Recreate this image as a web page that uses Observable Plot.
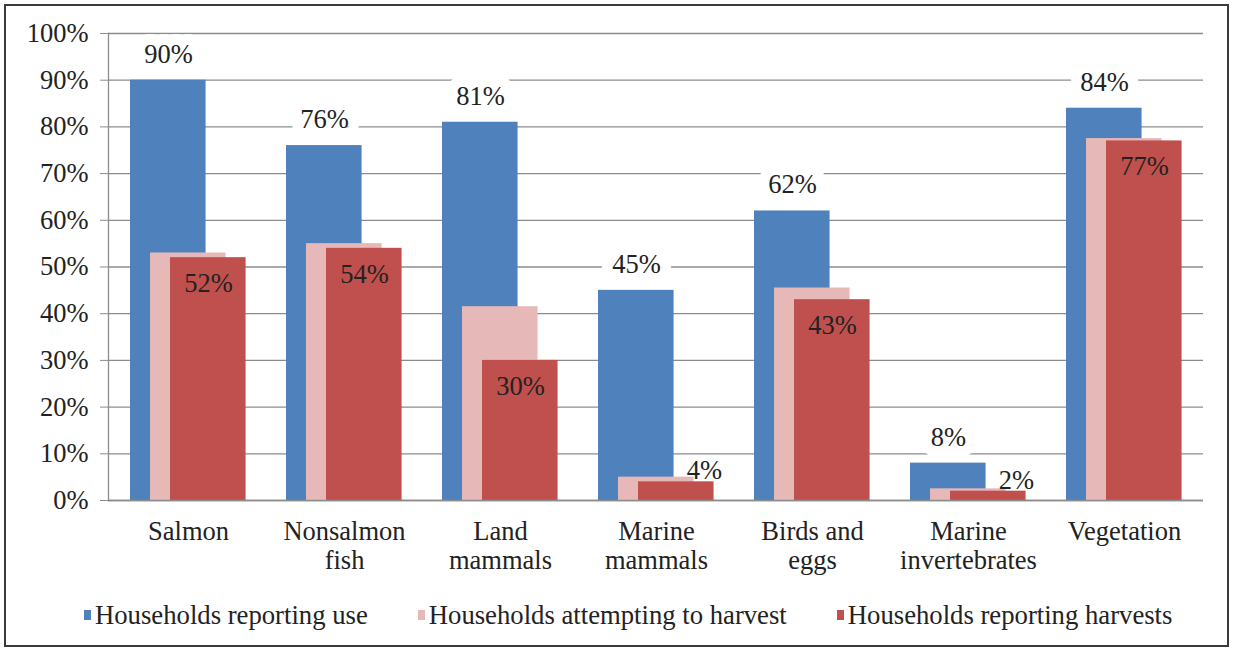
<!DOCTYPE html>
<html>
<head>
<meta charset="utf-8">
<script src="https://cdn.jsdelivr.net/npm/d3@7"></script>
<script src="https://cdn.jsdelivr.net/npm/@observablehq/plot@0.6"></script>
<style>
  html, body { margin: 0; padding: 0; background: #fff; }
  #wrap { position: relative; width: 1233px; height: 655px; font-family: "Liberation Serif", "Times New Roman", serif; color: #222; }
  #border { position: absolute; left: 4px; top: 4px; width: 1221px; height: 639px; border: 2px solid #3a3a3a; pointer-events: none; }
  #chart { position: absolute; left: 0; top: 0; }
  #legend { position: absolute; left: 84px; top: 600px; display: flex; gap: 50px; font-size: 26.7px; line-height: 30px; }
  .item { display: flex; align-items: center; white-space: nowrap; }
  .sw { width: 7px; height: 10px; margin-right: 4px; display: inline-block; }
</style>
</head>
<body>
<div id="wrap">
  <div id="chart"></div>
  <div id="legend"></div>
  <div id="border"></div>
</div>
<script>
const categories = ["Salmon", "Nonsalmon\nfish", "Land\nmammals", "Marine\nmammals", "Birds and\neggs", "Marine\ninvertebrates", "Vegetation"];
const seriesNames = ["Households reporting use", "Households attempting to harvest", "Households reporting harvests"];
const seriesColors = ["#4f81bd", "#e6b9b8", "#c0504d"];
const useValues = [90, 76, 81, 45, 62, 8, 84];
const attemptValues = [53, 55, 41.5, 5, 45.5, 2.5, 77.5];
const harvestValues = [52, 54, 30, 4, 43, 2, 77];
const yTicks = [0, 10, 20, 30, 40, 50, 60, 70, 80, 90, 100];

const mk = vals => categories.map((c, i) => ({category: c, value: vals[i]}));
const useData = mk(useValues);
const attemptData = mk(attemptValues);
const harvestData = mk(harvestValues);

const W = 1233, mL = 108, mR = 30;
const bw = (W - mL - mR) / categories.length;
const barW = 76, off = 20;
const FF = "serif";
const FS = 26.5;

const txt = d => d.value + "%";

const plot = Plot.plot({
  width: W,
  height: 590,
  marginLeft: mL,
  marginRight: mR,
  marginTop: 33,
  marginBottom: 90,
  style: {fontSize: FS + "px", color: "#222", background: "transparent"},
  x: {domain: categories, padding: 0, label: null},
  y: {domain: [0, 100], label: null},
  marks: [
    Plot.gridY(yTicks, {stroke: "#8c8c8c", strokeOpacity: 1, strokeWidth: 1.3}),
    Plot.axisY({ticks: yTicks, tickFormat: d => d + "%", tickSize: 8, tickPadding: 12, label: null, stroke: "#8c8c8c", fontSize: FS}),
    Plot.axisX({tickSize: 0, tickPadding: 19, label: null, lineHeight: 1.1, fontSize: FS}),
    Plot.barY(useData, {x: "category", y: "value", fill: seriesColors[0], insetLeft: off, insetRight: bw - off - barW}),
    Plot.barY(attemptData, {x: "category", y: "value", fill: seriesColors[1], insetLeft: off * 2, insetRight: bw - off * 2 - barW}),
    Plot.barY(harvestData, {x: "category", y: "value", fill: seriesColors[2], insetLeft: off * 3, insetRight: bw - off * 3 - barW}),
    Plot.ruleY([0], {stroke: "#8c8c8c", strokeWidth: 1.3}),
    Plot.frame({anchor: "left", stroke: "#8c8c8c", strokeWidth: 1.3}),
    Plot.text(useData, {x: "category", y: "value", text: txt, dx: -off, dy: -26, fill: "#222", stroke: "white", strokeWidth: 22, fontSize: FS}),
    Plot.text(harvestData.filter(d => d.value >= 10), {x: "category", y: "value", text: txt, dx: off, dy: 26, fill: "#222", fontSize: FS}),
    Plot.text(harvestData.filter(d => d.value < 10), {x: "category", y: "value", text: txt, dx: 48, dy: -11, fill: "#222", fontSize: FS})
  ]
});
plot.querySelectorAll("text, tspan, g").forEach(el => { el.setAttribute("font-family", FF); el.style.fontFamily = FF; });
plot.setAttribute("font-family", FF);
plot.style.fontFamily = FF;
document.getElementById("chart").appendChild(plot);

const legend = document.getElementById("legend");
seriesNames.forEach((n, i) => {
  const it = document.createElement("div");
  it.className = "item";
  const sw = document.createElement("span");
  sw.className = "sw";
  sw.style.background = seriesColors[i];
  it.appendChild(sw);
  it.appendChild(document.createTextNode(n));
  legend.appendChild(it);
});
</script>
</body>
</html>
